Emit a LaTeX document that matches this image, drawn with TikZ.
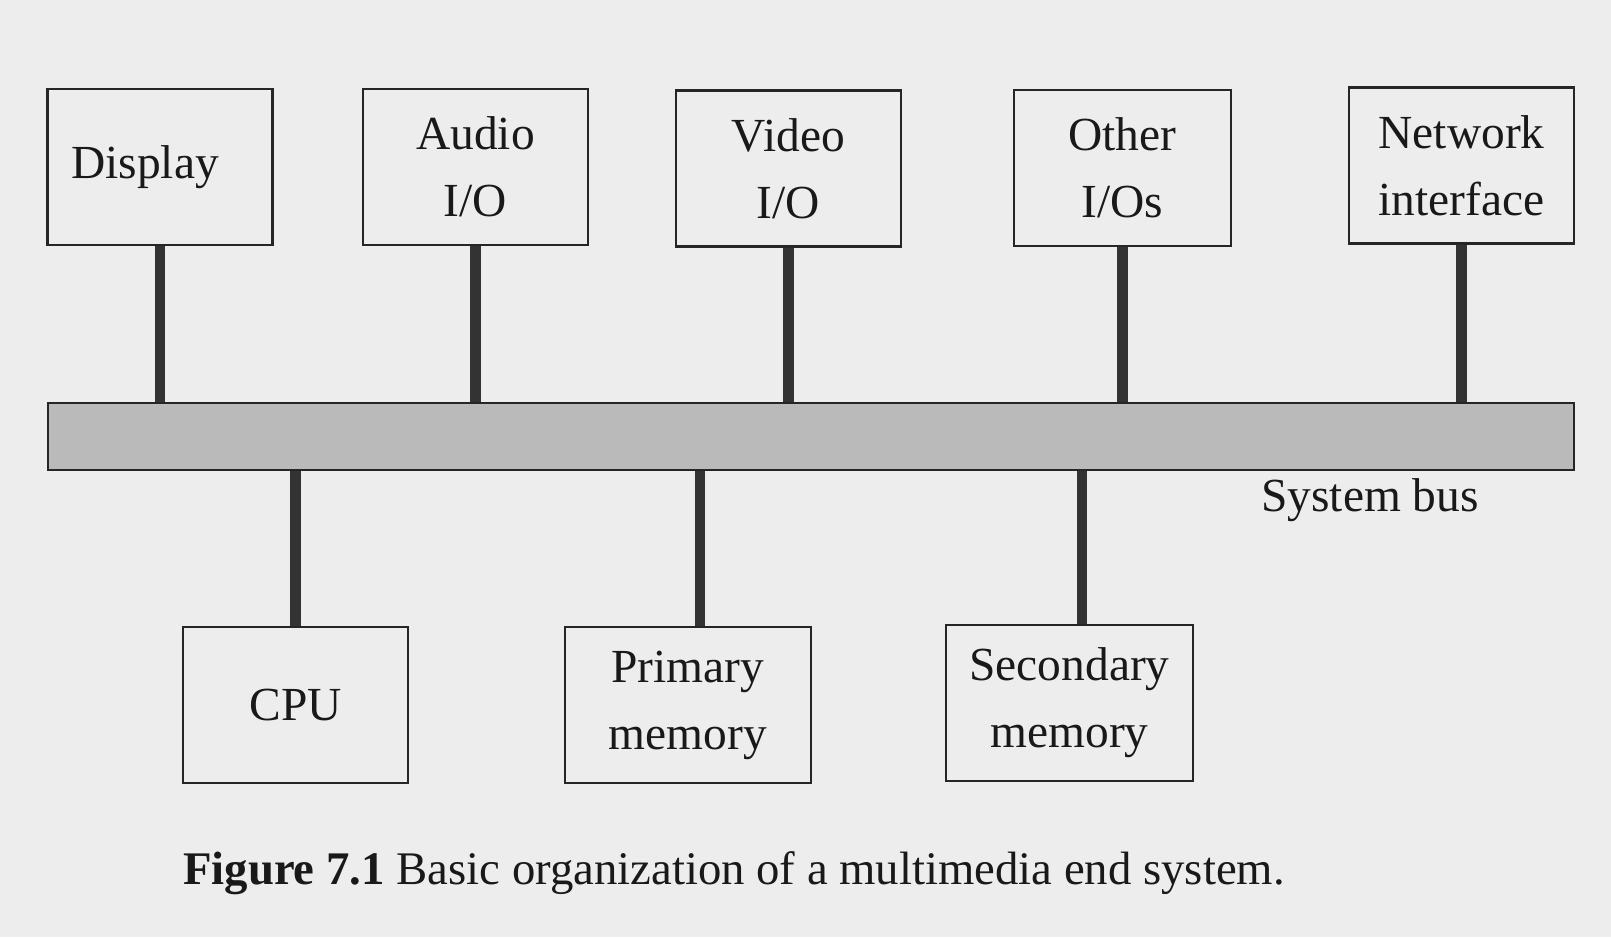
\documentclass[tikz,border=0pt]{standalone}
\usepackage{fontspec}
\setmainfont{Liberation Serif}
\usepackage{tikz}
\usetikzlibrary{positioning}

\begin{document}
\begin{tikzpicture}[
  unitbox/.style={draw=black!85,line width=0.7pt,minimum width=2.25cm,minimum height=1.56cm,
    align=center,font=\fontsize{13.5}{19}\selectfont,text=black!90},
  busbar/.style={draw=black!85,line width=0.7pt,fill=black!27,minimum width=15.26cm,minimum height=0.67cm},
  link/.style={line width=2.9pt,draw=black!80}]
  \useasboundingbox[fill=black!7] (0,0) rectangle (16.11,-9.37);
  % the bus
  \node[busbar] (bus) at (8.11,-4.365) {};
  \node[font=\fontsize{13.5}{16}\selectfont,text=black!90] (buslab) at (13.70,-5.00) {System bus};
  % units above the bus
  \node[unitbox] (disp)  at (1.60,-1.67)  {Display\hspace*{0.3cm}};
  \node[unitbox] (audio) at (4.755,-1.67) {Audio\\I/O};
  \node[unitbox] (video) at (7.885,-1.685) {Video\\I/O};
  \node[unitbox,minimum width=2.17cm] (other) at (11.225,-1.68) {Other\\I/Os};
  \node[unitbox] (net)   at (14.615,-1.655) {Network\\interface};
  % units below the bus
  \node[unitbox] (cpu)  at (2.955,-7.05) {CPU};
  \node[unitbox,minimum width=2.46cm] (prim) at (6.88,-7.05) {Primary\\memory};
  \node[unitbox,minimum width=2.47cm] (sec)  at (10.695,-7.03) {Secondary\\memory};
  \foreach \u in {disp,audio,video,other,net} {\draw[link] (\u.south) -- (\u.south |- bus.north);}
  \foreach \u/\dx in {cpu/0,prim/0.12,sec/0.125} {\draw[link] ([xshift=\dx cm]\u.north) -- ([xshift=\dx cm]\u.north |- bus.south);}
  \node[font=\fontsize{13.3}{16}\selectfont,text=black!90] (caption) at (7.34,-8.73)
    {\textbf{Figure 7.1} Basic organization of a multimedia end system.};
\end{tikzpicture}
\end{document}
